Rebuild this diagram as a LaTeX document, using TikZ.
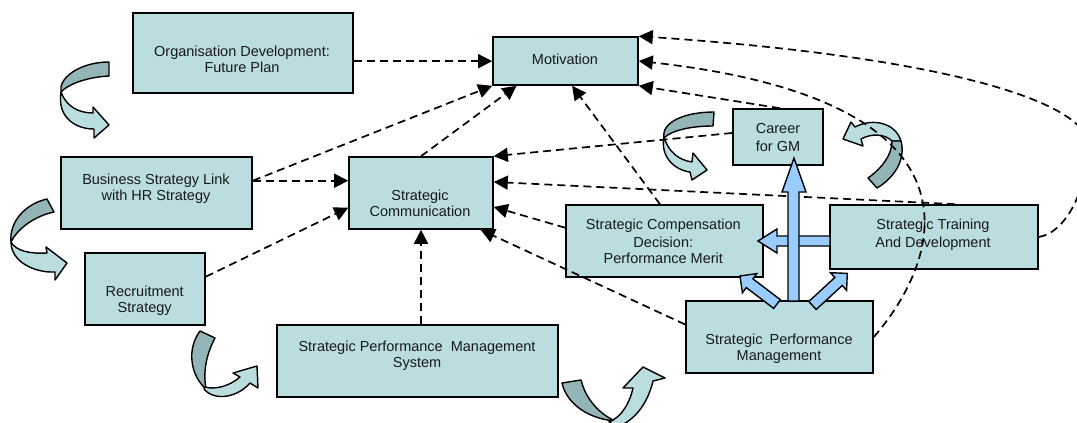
\documentclass[tikz,border=0pt]{standalone}
\usepackage{fontspec}
\setmainfont{Liberation Sans}
\usetikzlibrary{arrows.meta,calc}
\definecolor{boxfill}{RGB}{186,221,223}
\definecolor{darkteal}{RGB}{148,181,183}
\definecolor{blueA}{RGB}{153,204,255}
\definecolor{txtc}{RGB}{25,25,25}
\begin{document}
\begin{tikzpicture}[x=1pt,y=-1pt,
  box/.style={draw=black, line width=1.6pt, fill=boxfill, inner sep=0pt},
  txt/.style={font=\fontsize{14.5}{16}\selectfont, text=txtc, align=center, inner sep=0pt},
  conn/.style={draw=black, line width=1.7pt, dash pattern=on 8pt off 5pt, -{Triangle[length=14pt,width=14pt]}},
  clight/.style={fill=boxfill, draw=black, line width=1.4pt, line join=round},
  cdark/.style={fill=darkteal, draw=black, line width=1.4pt, line join=round},
  barrow/.style={fill=blueA, draw=black, line width=1.4pt, line join=miter}]
\useasboundingbox (0,0) rectangle (1077,423);
\fill[white] (0,0) rectangle (1077,423);

% boxes
\node[box, minimum width=220pt, minimum height=80pt] (od) at (243,53) {};
\node[box, minimum width=145pt, minimum height=48pt] (mot) at (565.5,61) {};
\node[box, minimum width=191pt, minimum height=72pt] (bsl) at (156.5,193) {};
\node[box, minimum width=144pt, minimum height=72pt] (sc) at (421,193) {};
\node[box, minimum width=120pt, minimum height=72pt] (rec) at (145,289) {};
\node[box, minimum width=281pt, minimum height=72pt] (spms) at (417.5,361) {};
\node[box, minimum width=90pt, minimum height=56pt] (car) at (778,137) {};
\node[box, minimum width=197pt, minimum height=72pt] (comp) at (664.5,241) {};
\node[box, minimum width=208pt, minimum height=64pt] (trn) at (934,237) {};
\node[box, minimum width=187pt, minimum height=72pt] (spm) at (779.5,337) {};

% texts
\node[txt] (odT) at (242,60.8) {\strut Organisation Development:\\\strut Future Plan};
\node[txt] (motT) at (565,61.3) {\strut Motivation};
\node[txt] (bslT) at (156,188.8) {\strut Business Strategy Link\\\strut with HR Strategy};
\node[txt] (scT) at (420,204.8) {\strut Strategic\\\strut Communication};
\node[txt] (recT) at (144.7,300.8) {\strut Recruitment\\\strut Strategy};
\node[txt] (spmsT) at (417,356.5) {\strut Strategic Performance\hspace{4pt} Management\\\strut System};
\node[txt] (carT) at (778,139.4) {\strut Career\\[2.5pt]\strut for GM};
\node[txt] (compT) at (663.3,243.5) {\strut Strategic Compensation\\[2.4pt]\strut Decision:\\\strut Performance Merit};
\node[txt] (trnT) at (933,235.2) {\strut Strategic Training\\[2.7pt]\strut And Development};
\node[txt] (spmT) at (779,348.8) {\strut Strategic\hspace{3pt} Performance\\\strut Management};

% curved block arrows
% A
\draw[cdark] (109,62) -- (109,76) .. controls (88,77) and (68,84) .. (61,92) .. controls (58,78) and (80,62) .. (109,62) -- cycle;
\draw[clight] (61,92) .. controls (66,106) and (78,113) .. (93,113) -- (93,107) -- (109,125) -- (94,138) -- (94,129) .. controls (74,129) and (57,116) .. (61,92) -- cycle;
% B
\draw[cdark] (47,199) -- (54,212) .. controls (35,216) and (18,228) .. (11,242) .. controls (9,222) and (25,204) .. (47,199) -- cycle;
\draw[clight] (11,242) .. controls (16,251) and (30,254) .. (47,253) -- (46,247) -- (67,263) -- (55,280) -- (55,272) .. controls (35,273) and (11,262) .. (11,242) -- cycle;
% C
\draw[cdark] (200,331) -- (215,338) .. controls (206,355) and (203,372) .. (206,389) .. controls (191,376) and (186,350) .. (200,331) -- cycle;
\draw[clight] (205,387) .. controls (215,390) and (230,386) .. (240,377) -- (233,373) -- (257,366) -- (258,388) -- (250,383) .. controls (238,397) and (215,402) .. (204,389) -- cycle;
% D
\draw[cdark] (562,383) -- (581,380) .. controls (586,400) and (600,414) .. (615,421) .. controls (590,419) and (567,405) .. (562,383) -- cycle;
\draw[clight] (609,422) .. controls (622,417) and (630,402) .. (633,388) -- (623,388) -- (643,367) -- (665,378) -- (653,381) .. controls (648,402) and (636,420) .. (617,427) -- cycle;
% E
\draw[cdark] (714,112) -- (713,126) .. controls (692,126) and (672,130) .. (664,138) .. controls (661,122) and (685,112) .. (714,112) -- cycle;
\draw[clight] (664,137) .. controls (668,151) and (678,160) .. (692,162) -- (693,153) -- (707,170) -- (692,180) -- (690,172) .. controls (674,170) and (660,156) .. (664,137) -- cycle;
% F
\draw[clight] (843,139) -- (851,122) -- (855,127) .. controls (872,118) and (895,122) .. (901,141) -- (892,141) .. controls (885,134) and (872,133) .. (861,139) -- (863,146) -- cycle;
\draw[cdark] (901,141) .. controls (906,160) and (894,178) .. (877,188) -- (868,178) .. controls (882,168) and (892,155) .. (892,141) -- cycle;

% connector ports
\coordinate (odE) at ($(od.north east)!0.6!(od.south east)$);
\coordinate (bslE) at ($(bsl.north east)!0.333!(bsl.south east)$);
\coordinate (scW1) at ($(sc.north west)!0.333!(sc.south west)$);
\coordinate (scW2) at ($(sc.north west)!0.7!(sc.south west)$);
\coordinate (scE2) at ($(sc.north east)!0.35!(sc.south east)$);
\coordinate (scE3) at ($(sc.north east)!0.69!(sc.south east)$);
\coordinate (scS2) at ($(sc.south west)!0.91!(sc.south east)$);
\coordinate (motS1) at ($(mot.south west)!0.166!(mot.south east)$);
\coordinate (motS2) at ($(mot.south west)!0.545!(mot.south east)$);
\coordinate (recE) at ($(rec.north east)!0.333!(rec.south east)$);
\coordinate (compW) at ($(comp.north west)!0.32!(comp.south west)$);
\coordinate (compN) at ($(comp.north west)!0.477!(comp.north east)$);
\coordinate (spmW) at ($(spm.north west)!0.33!(spm.south west)$);
\coordinate (carW) at ($(car.north west)!0.43!(car.south west)$);
\coordinate (carN) at ($(car.north west)!0.52!(car.north east)$);
\coordinate (trnN) at ($(trn.north west)!0.6!(trn.north east)$);

% dashed connectors
\draw[conn] (odE) -- (odE -| mot.west);
\draw[conn] (bslE) -- (scW1);
\draw[conn] (bslE) -- (mot.south west);
\draw[conn] (sc.north) -- (motS1);
\draw[conn] (recE) -- (scW2);
\draw[conn] (sc.south |- spms.north) -- (sc.south);
\draw[conn] (compW) -- (scE3);
\draw[conn] (spmW) -- (scS2);
\draw[conn] (carW) -- (sc.north east);
\draw[conn] (trnN) -- (scE2);
\draw[conn] (compN) -- (motS2);
\draw[conn] (carN) -- (mot.south east);
\draw[conn] (spm.east) .. controls (945,255) and (992,100) .. (mot.east);
\draw[conn] (trn.east) .. controls (1068,232) and (1088,185) .. (1088,145) .. controls (1088,105) and (960,58) .. (mot.north east);

% blue block arrows
\draw[barrow] (830,236) -- (777,236) -- (777,229) -- (758,241) -- (777,253) -- (777,246) -- (830,246) -- cycle;
\draw[barrow] (788,301) -- (788,192) -- (782,192) -- (794,158) -- (806,192) -- (799,192) -- (799,301) -- cycle;
\draw[barrow] (780.3,299.6) -- (752.9,278.8) -- (756.8,273.6) -- (740,276) -- (742.4,292.8) -- (746.3,287.6) -- (773.7,308.4) -- cycle;
\draw[barrow] (816.2,309.5) -- (842.2,285.5) -- (846.6,290.3) -- (847.3,273.4) -- (830.4,272.7) -- (834.8,277.5) -- (808.8,301.5) -- cycle;
\end{tikzpicture}
\end{document}
